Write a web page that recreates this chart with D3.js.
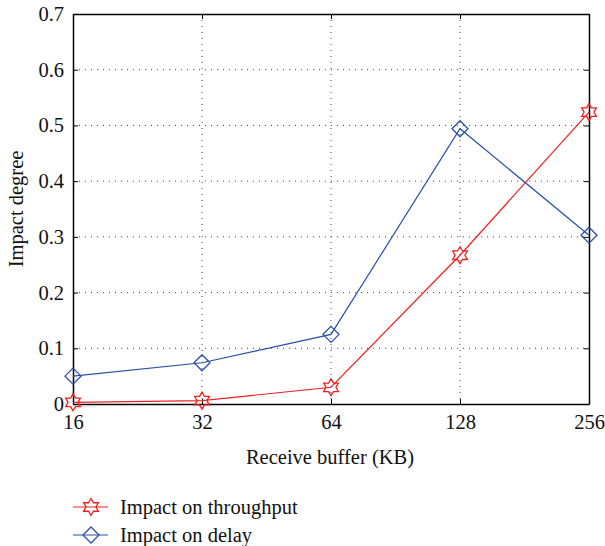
<!DOCTYPE html>
<html><head><meta charset="utf-8">
<script src="https://cdn.jsdelivr.net/npm/d3@7"></script>
<style>body{margin:0;background:#fff}svg{display:block}svg text{font-family:"Liberation Serif",serif !important;fill:#111}</style>
</head><body><svg id="c" width="605" height="546"></svg>
<script>
const categories = ["16","32","64","128","256"];
const throughput = [0.003, 0.006, 0.03, 0.267, 0.524];
const delay = [0.05, 0.074, 0.125, 0.494, 0.303];
const yTicks = [0,0.1,0.2,0.3,0.4,0.5,0.6,0.7];
const yTickLabels = ["0","0.1","0.2","0.3","0.4","0.5","0.6","0.7"];
const seriesNames = ["Impact on throughput","Impact on delay"];
const seriesColors = ["#f02020","#2a4fa8"];

const L=73,R=589,T=14,B=404;
const FONT='"Liberation Serif",serif';
const svg=d3.select("#c");
const x=d3.scalePoint().domain(categories).range([L,R]);
const y=d3.scaleLinear().domain([0,0.7]).range([B,T]);

// grid
const g=svg.append("g");
g.selectAll(".hg").data(yTicks.slice(1,-1)).join("line")
 .attr("x1",L).attr("x2",R).attr("y1",d=>y(d)).attr("y2",d=>y(d))
 .attr("stroke","#444").attr("stroke-width",1).attr("stroke-dasharray","1,5");
g.selectAll(".vg").data(categories.slice(1,-1)).join("line")
 .attr("x1",d=>x(d)).attr("x2",d=>x(d)).attr("y1",T).attr("y2",B)
 .attr("stroke","#444").attr("stroke-width",1).attr("stroke-dasharray","1,5");

// axes
const fs=20.5;
const ax=svg.append("g").attr("transform",`translate(${L},0)`)
 .call(d3.axisLeft(y).tickValues(yTicks).tickFormat((d,i)=>yTickLabels[i]).tickSizeInner(-5).tickSizeOuter(0).tickPadding(9));
const axR=svg.append("g").attr("transform",`translate(${R},0)`)
 .call(d3.axisRight(y).tickValues(yTicks).tickFormat("").tickSizeInner(-5).tickSizeOuter(0));
const axB=svg.append("g").attr("transform",`translate(0,${B})`)
 .call(d3.axisBottom(x).tickSizeInner(-5).tickSizeOuter(0).tickPadding(10));
const axT=svg.append("g").attr("transform",`translate(0,${T})`)
 .call(d3.axisTop(x).tickFormat("").tickSizeInner(-5).tickSizeOuter(0));
[ax,axR,axB,axT].forEach(a=>{a.attr("font-family",FONT).attr("font-size",fs);a.select(".domain").attr("stroke","#000").attr("stroke-width",1.5);a.selectAll(".tick line").attr("stroke","#000");a.selectAll("text").attr("fill","#111");});
axB.selectAll("text").attr("dy","0.72em");

// titles
svg.append("text").attr("x",330).attr("y",464).attr("text-anchor","middle").attr("font-family",FONT).attr("font-size",fs).text("Receive buffer (KB)");
svg.append("text").attr("transform","translate(23,209) rotate(-90)").attr("text-anchor","middle").attr("font-family",FONT).attr("font-size",fs).text("Impact degree");

// markers
function star(cx,cy,r){
  const p=[];for(let i=0;i<12;i++){const a=-Math.PI/2+i*Math.PI/6;const rr=i%2?r*0.58:r;p.push([cx+rr*Math.cos(a),cy+rr*Math.sin(a)]);}
  return "M"+p.map(q=>q.join(",")).join("L")+"Z";
}
function diamond(cx,cy,r){return `M${cx},${cy-r}L${cx+r},${cy}L${cx},${cy+r}L${cx-r},${cy}Z`;}
const line=d3.line().x((d,i)=>x(categories[i])).y(d=>y(d));
const data=[throughput,delay];
const shapes=[star,diamond];
const sizes=[8.5,8];
data.forEach((s,k)=>{
  svg.append("path").attr("d",line(s)).attr("fill","none").attr("stroke",seriesColors[k]).attr("stroke-width",1.2);
  svg.selectAll(null).data(s).join("path").attr("d",(d,i)=>shapes[k](x(categories[i]),y(d),sizes[k]))
   .attr("fill","none").attr("stroke",seriesColors[k]).attr("stroke-width",1.3);
});

// legend
const ly=[507,535];
seriesNames.forEach((n,k)=>{
  svg.append("line").attr("x1",73).attr("x2",108).attr("y1",ly[k]).attr("y2",ly[k]).attr("stroke",seriesColors[k]).attr("stroke-width",1.2);
  svg.append("path").attr("d",shapes[k](91,ly[k],sizes[k])).attr("fill","none").attr("stroke",seriesColors[k]).attr("stroke-width",1.3);
  svg.append("text").attr("x",120).attr("y",ly[k]).attr("dy","0.33em").attr("font-family",FONT).attr("font-size",fs).text(n);
});
</script></body></html>
